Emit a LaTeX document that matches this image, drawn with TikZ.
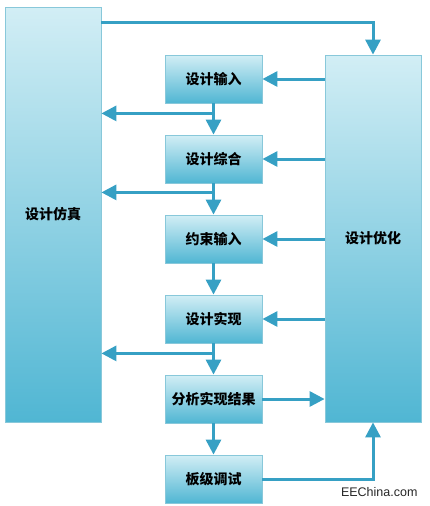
\documentclass[tikz,border=0pt]{standalone}
\usepackage{fontspec}
\newfontfamily\cjk{Noto Sans CJK SC}
\newfontfamily\wmfont{Liberation Sans}
\usetikzlibrary{positioning,arrows.meta}

\definecolor{arrowblue}{HTML}{36A0C4}
\definecolor{boxtop}{HTML}{D2EEF5}
\definecolor{boxmid}{HTML}{A0D8E7}
\definecolor{boxbot}{HTML}{50B6D3}
\definecolor{boxline}{HTML}{88C8DA}

\tikzset{
  stage/.style={draw=boxline, line width=0.8pt, top color=boxtop, middle color=boxmid,
    bottom color=boxbot, font=\cjk\bfseries\fontsize{14}{16}\selectfont,
    minimum width=97pt, minimum height=48pt, inner sep=0pt},
  tallbox/.style={stage, minimum width=96pt},
  flow/.style={draw=arrowblue, line width=3pt, -{Triangle[length=15pt,width=15pt]}},
}

\begin{document}
\begin{tikzpicture}[x=1pt,y=1pt]
  \useasboundingbox (0,0) rectangle (430,-506);

  % Bloques laterales
  \node[tallbox, minimum height=415pt] (sim) at (53,-214.5) {设计仿真};
  \node[tallbox, minimum height=367pt] (opt) at (373,-238.5) {设计优化};

  % Cadena central
  \node[stage] (in) at (213.5,-79) {设计输入};
  \node[stage, below=31.2pt of in] (syn) {设计综合};
  \node[stage, below=31.2pt of syn] (con) {约束输入};
  \node[stage, below=31.2pt of con] (imp) {设计实现};
  \node[stage, below=31.2pt of imp] (ana) {分析实现结果};
  \node[stage, below=31.2pt of ana] (dbg) {板级调试};

  % Flechas hacia abajo
  \draw[flow] (in) -- (syn);
  \draw[flow] (syn) -- (con);
  \draw[flow] (con) -- (imp);
  \draw[flow] (imp) -- (ana);
  \draw[flow] (ana) -- (dbg);

  % Ramas hacia la simulacion
  \coordinate (b1) at ([yshift=-10pt]in.south);
  \coordinate (b2) at ([yshift=-9pt]syn.south);
  \coordinate (b3) at ([yshift=-10pt]imp.south);
  \foreach \b in {b1,b2,b3}
    \draw[flow] (\b) -- (\b -| sim.east);

  % Realimentacion desde la optimizacion
  \foreach \s in {in,syn,con,imp}
    \draw[flow] (opt.west |- \s.east) -- (\s.east);
  \draw[flow] (ana.east) -- (ana.east -| opt.west);
  \draw[flow] (dbg.east) -| (opt.south);

  % Simulacion -> optimizacion
  \coordinate (s0) at ([yshift=-16pt]sim.north east);
  \draw[flow] (s0) -| (opt.north);

  \node[font=\wmfont\fontsize{12.5}{14}\selectfont, text=black!85, anchor=east] (wm) at (421,-492) {EEChina.com};
\end{tikzpicture}
\end{document}
